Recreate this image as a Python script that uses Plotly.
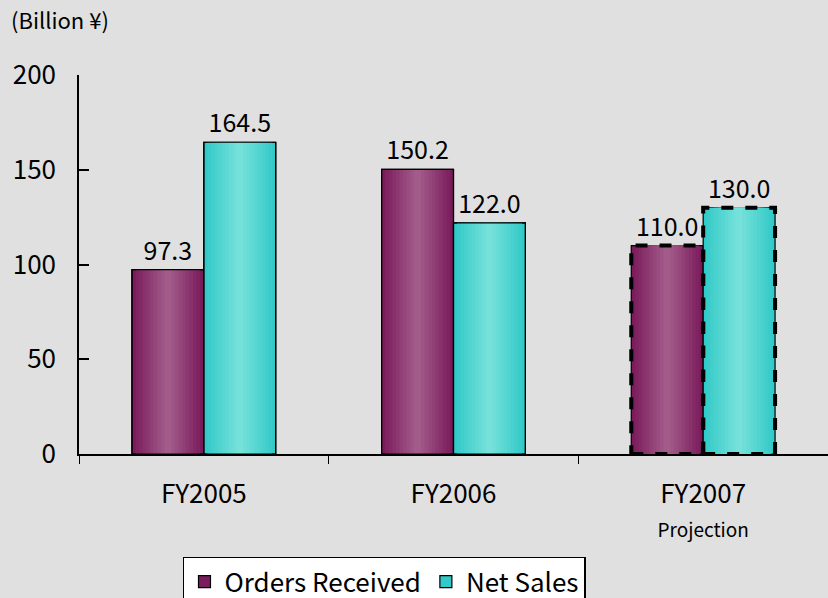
import plotly.graph_objects as go

# Data
categories = ["FY2005", "FY2006", "FY2007"]
tick_labels = ["FY2005", "FY2006", "FY2007<br><span style='font-size:19px'>Projection</span>"]
orders_received = [97.3, 150.2, 110.0]
net_sales = [164.5, 122.0, 130.0]
projection_idx = [2]

FONT = "Noto Sans CJK JP"
BG = "#E0E0E0"

bar_w = 0.288
n_strips = 10


def blend(c1, c2, t):
    return "rgb({},{},{})".format(*[round(a + (b - a) * t) for a, b in zip(c1, c2)])


series = [
    ("Orders Received", orders_received, -1, (122, 28, 92), (163, 92, 138)),
    ("Net Sales", net_sales, 1, (50, 202, 200), (118, 224, 218)),
]

fig = go.Figure()

for name, vals, side, edge, mid in series:
    # gradient strips, outer to inner
    for k in range(n_strips):
        ws = bar_w * (1 - k / n_strips)
        first = k == 0
        fig.add_trace(go.Bar(
            x=categories, y=vals, name=name,
            width=[ws] * len(vals),
            offset=[side * bar_w / 2 - ws / 2] * len(vals),
            marker=dict(color=blend(edge, mid, k / (n_strips - 1)),
                        line=dict(color="black", width=1.2 if first else 0)),
            showlegend=first, legendgroup=name, hoverinfo="skip",
        ))
    # outline + labels (projection bars get a dashed outline instead)
    fig.add_trace(go.Bar(
        x=categories, y=vals, name=name,
        width=[bar_w] * len(vals),
        offset=[side * bar_w / 2 - bar_w / 2] * len(vals),
        marker=dict(color="rgba(0,0,0,0)",
                    line=dict(color=["rgba(0,0,0,0)" if i in projection_idx else "black"
                                     for i in range(len(vals))], width=1.2)),
        text=[f"{v:.1f}" for v in vals], textposition="outside",
        textfont=dict(family=FONT, size=25, color="black"),
        cliponaxis=False, showlegend=False, legendgroup=name,
    ))

# dashed outline for projection bars
shapes = []
for i in projection_idx:
    for name, vals, side, edge, mid in series:
        x0 = i + (side - 1) * bar_w / 2
        shapes.append(dict(type="rect", xref="x", yref="y",
                           x0=x0, x1=x0 + bar_w, y0=0, y1=vals[i],
                           line=dict(color="black", width=4, dash="dash")))

fig.update_layout(
    width=828, height=598,
    paper_bgcolor=BG, plot_bgcolor=BG,
    barmode="overlay",
    margin=dict(l=79, r=0, t=75, b=144),
    font=dict(family=FONT, size=24, color="black"),
    shapes=shapes,
    showlegend=True,
    legend=dict(orientation="h", xref="container", yref="container",
                x=0.221, y=0.069, xanchor="left", yanchor="top",
                bgcolor="white", bordercolor="black", borderwidth=1.5,
                font=dict(family=FONT, size=26), traceorder="normal",
                itemwidth=30),
    annotations=[dict(text="(Billion ¥)", xref="paper", yref="paper",
                      x=-0.094, y=1.195, xanchor="left", yanchor="top",
                      showarrow=False, font=dict(family=FONT, size=22))],
)

fig.update_xaxes(
    type="category", tickmode="array", tickvals=categories, ticktext=tick_labels,
    range=[-0.5, 2.5], showline=True, linecolor="black", linewidth=1.5,
    ticks="outside", ticklen=8, tickcolor="black", tickwidth=1,
    showgrid=False, zeroline=False, ticklabelstandoff=16,
    tickfont=dict(family=FONT, size=26), tickson="boundaries",
)

fig.update_yaxes(
    range=[0, 200], dtick=50, showline=True, linecolor="black", linewidth=1.5,
    ticks="inside", ticklen=10, tickcolor="black", tickwidth=1.5,
    showgrid=False, zeroline=False, ticklabelstandoff=16,
    tickfont=dict(family=FONT, size=26),
)

fig.write_html("out.html", config={"displayModeBar": False},
               post_script="document.body.style.margin='0';")
